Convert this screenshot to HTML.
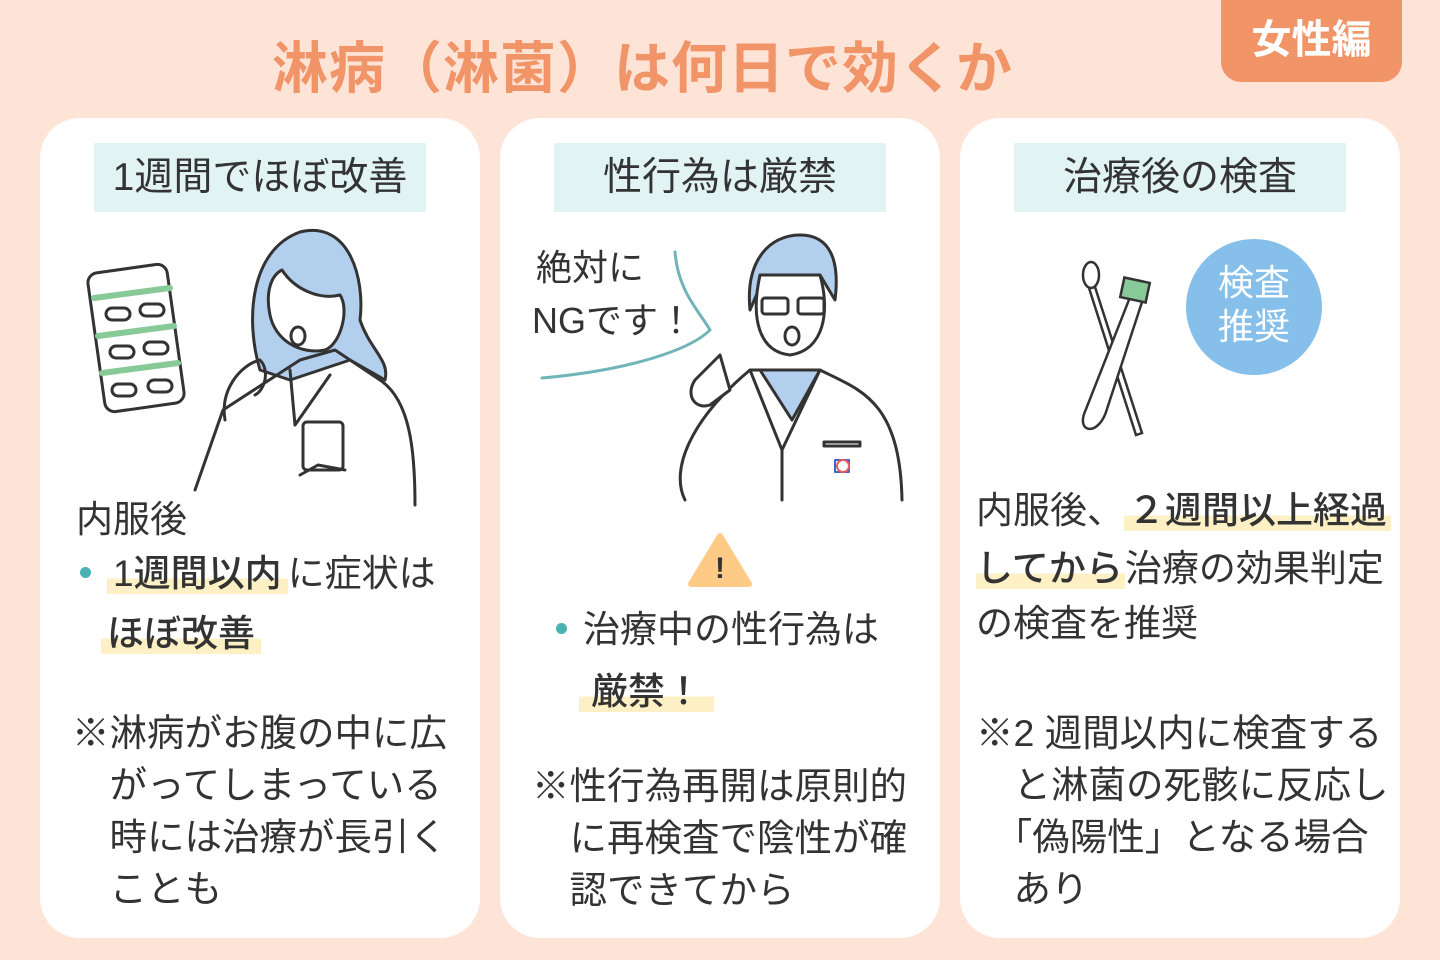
<!DOCTYPE html>
<html><head><meta charset="utf-8"><style>
*{margin:0;padding:0;box-sizing:border-box}
body{width:1440px;height:960px;background:#fde4d7;position:relative;overflow:hidden;font-family:"Liberation Sans","Noto Sans CJK JP",sans-serif;color:#333}
.a{position:absolute;white-space:nowrap}
.card{position:absolute;top:118px;width:440px;height:820px;background:#fff;border-radius:40px}
.hd{position:absolute;top:143px;width:332px;height:69px;background:#e2f3f3;font-size:39px;line-height:69px;text-align:center;color:#333}
.t{font-size:36px;line-height:1}
.n{font-size:37.5px;line-height:52px;white-space:pre}
.hl{background:linear-gradient(transparent 62%,#fdf0c4 62%);font-weight:500;padding:0 6px}
.dot{display:inline-block;width:11px;height:11px;border-radius:50%;background:#4ab2b2;vertical-align:middle;margin-right:16px;position:relative;top:-4px}
svg{position:absolute}
</style></head><body>
<div class="a" style="left:272px;top:24px;font-size:56px;font-weight:700;color:#f19468;letter-spacing:1px">淋病（淋菌）は何日で効くか</div>
<div class="a" style="left:1221px;top:0;width:181px;height:82px;background:#f19468;border-radius:0 0 20px 20px;color:#fff;font-size:40px;font-weight:700;text-align:center;line-height:80px">女性編</div>

<div class="card" style="left:40px"></div>
<div class="card" style="left:500px"></div>
<div class="card" style="left:960px"></div>
<div class="hd" style="left:94px">1週間でほぼ改善</div>
<div class="hd" style="left:554px">性行為は厳禁</div>
<div class="hd" style="left:1014px">治療後の検査</div>

<svg style="left:60px;top:220px" width="400" height="300" viewBox="0 0 400 300" fill="none" stroke="#333" stroke-width="3" stroke-linecap="round" stroke-linejoin="round">
<rect x="36" y="48" width="80" height="140" rx="10" transform="rotate(-8 76 118)"/>
<g stroke="#88c998" stroke-width="6"><line x1="34" y1="78" x2="110" y2="68"/><line x1="38" y1="116" x2="114" y2="106"/><line x1="42" y1="153" x2="118" y2="143"/></g>
<g><rect x="46" y="88" width="24" height="12" rx="6"/><rect x="80" y="84" width="24" height="12" rx="6"/><rect x="50" y="126" width="24" height="12" rx="6"/><rect x="84" y="122" width="24" height="12" rx="6"/><rect x="52" y="164" width="24" height="12" rx="6"/><rect x="88" y="160" width="24" height="12" rx="6"/></g>
<path d="M200 150 C185 100 190 30 240 12 C290 0 305 60 300 100 C310 130 330 140 325 160 L290 140 L230 160 Z" fill="#b3cfee"/>
<path d="M222 50 C235 70 260 80 280 75 C290 90 280 125 265 130 C240 135 215 120 210 95 C205 70 212 55 222 50Z" fill="#fff"/>
<ellipse cx="238" cy="116" rx="7" ry="9"/>
<path d="M135 270 L163 190 L240 140 L275 130 L320 160 C350 180 355 230 355 285"/>
<path d="M235 205 L230 150 M235 205 L270 155"/>
<path d="M165 200 C160 170 180 145 200 140 C210 150 205 170 195 175"/>
<rect x="243" y="202" width="40" height="48" rx="4" fill="#fff"/>
<path d="M240 255 L258 245 L285 250"/>
</svg>

<svg style="left:520px;top:230px" width="400" height="280" viewBox="0 0 400 280" fill="none" stroke="#333" stroke-width="3" stroke-linecap="round" stroke-linejoin="round">
<path d="M155 22 C158 62 180 82 190 100 C170 120 110 140 22 148" stroke="#6fb5b7" stroke-width="3"/>
<path d="M230 80 C225 30 250 5 280 5 C310 5 320 30 315 70 L300 45 L245 45 Z" fill="#b3cfee"/>
<path d="M240 45 L300 45 C310 80 305 120 270 125 C240 122 230 90 240 45Z" fill="#fff"/>
<rect x="242" y="68" width="26" height="16" rx="3"/><rect x="278" y="68" width="26" height="16" rx="3"/>
<ellipse cx="272" cy="106" rx="7" ry="9"/>
<path d="M240 140 L272 190 L300 140 Z" fill="#b3cfee"/>
<path d="M165 270 C150 240 170 190 230 140 L300 140 C340 160 380 170 382 270"/>
<path d="M262 220 L262 270 M230 140 L262 220 L300 140"/>
<path d="M200 125 L210 160 L190 175 C175 180 165 165 175 150 L200 125Z" fill="#fff"/>
<rect x="304" y="212" width="36" height="4"/>
<path d="M315 230 h14 v12 h-14z" stroke="#3e63c9" stroke-width="2"/>
<circle cx="323" cy="236" r="6" stroke="#e85c63" stroke-width="2"/>
</svg>
<div class="a" style="left:536px;top:250px;font-size:36px;line-height:1">絶対に</div>
<div class="a" style="left:532px;top:303px;font-size:36px;line-height:1">NGです！</div>
<svg style="left:687px;top:530px" width="66" height="60"><path d="M33 6 L62 54 H4 Z" fill="#fecb86" stroke="#fecb86" stroke-width="6" stroke-linejoin="round"/><text x="33" y="48" font-size="30" font-weight="700" text-anchor="middle" fill="#333" font-family="Liberation Sans">!</text></svg>

<svg style="left:1070px;top:255px" width="110" height="190" viewBox="0 0 110 190" fill="none" stroke="#333" stroke-width="2.5">
<ellipse cx="21" cy="20" rx="8" ry="13"/>
<path d="M19 33 L66 180 L72 178 L25 32"/>
<path d="M62 30 L48 160 C44 185 22 185 28 160 L50 28 Z" fill="#fff" transform="rotate(12 50 100)"/>
<rect x="52" y="25" width="26" height="20" fill="#88c998" transform="rotate(12 65 35)"/>
</svg>
<div class="a" style="left:1186px;top:239px;width:136px;height:136px;border-radius:50%;background:#85bfea;color:#fff;font-size:36px;line-height:44px;text-align:center;padding-top:22px">検査<br>推奨</div>

<div class="a t" style="left:76px;top:501px;font-size:37px">内服後</div>
<div class="a t" style="left:80px;top:555px;font-size:37px"><span class="dot"></span><span class="hl">1週間以内</span>に症状は</div>
<div class="a t" style="left:101px;top:615px;font-size:37px"><span class="hl">ほぼ改善</span></div>
<div class="a n" style="left:72px;top:707px">※淋病がお腹の中に広
　がってしまっている
　時には治療が長引く
　ことも</div>

<div class="a t" style="left:556px;top:611px;font-size:37px"><span class="dot"></span>治療中の性行為は</div>
<div class="a t" style="left:579px;top:673px;font-size:37px"><span class="hl" style="padding:0 12px">厳禁！</span></div>
<div class="a n" style="left:532px;top:760px">※性行為再開は原則的
　に再検査で陰性が確
　認できてから</div>

<div class="a t" style="left:976px;top:492px;font-size:37px">内服後、<span class="hl" style="padding:0 4px">２週間以上経過</span></div>
<div class="a t" style="left:976px;top:550px;font-size:37px"><span class="hl" style="padding:0 2px 0 0">してから</span>治療の効果判定</div>
<div class="a t" style="left:976px;top:605px;font-size:37px">の検査を推奨</div>
<div class="a n" style="left:976px;top:707px">※2 週間以内に検査する
　と淋菌の死骸に反応し
　「偽陽性」となる場合
　あり</div>
</body></html>
